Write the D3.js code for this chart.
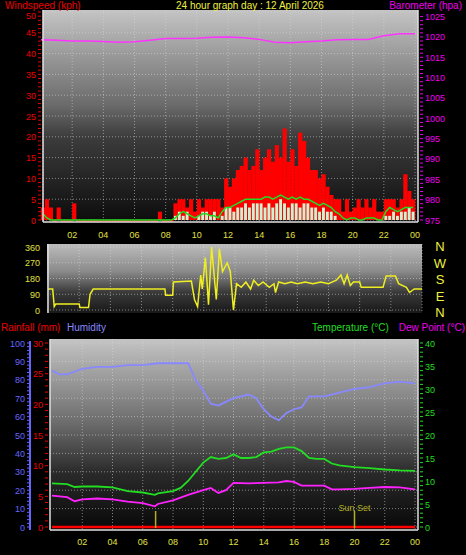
<!DOCTYPE html>
<html><head><meta charset="utf-8">
<script src="https://cdn.jsdelivr.net/npm/d3@7"></script>
<style>body{margin:0;background:#000}svg{display:block}text{font-family:"Liberation Sans",Arial,sans-serif}</style>
</head><body><svg id="c" width="466" height="555"></svg>
<script>
// ---- data ----
const hourLabels = ["02","04","06","08","10","12","14","16","18","20","22","00"];
// 15-minute steps, 96 values
const windGust = [3,5,3,0, 3,0,0,0, 4,0,0,0, 0,0,0,0, 0,0,0,0, 0,0,0,0, 0,0,0,0, 0,0,2,0,
  0,0,4,5, 5,3,5,2, 5,3,5,5, 5,5,3,10, 8,10,12,13, 15,12,13,17, 12,15,17,14, 18,15,22,14,
  17,13,21,19, 15,12,12,10, 11,8,6,5, 5,2,5,2, 3,5,3,5, 3,5,2,2, 5,5,5,3, 5,11,7,5];
const windAvg = [1.5,0.5,0,0, 0,0,0,0, 0,0,0,0, 0,0,0,0, 0,0,0,0, 0,0,0,0, 0,0,0,0, 0,0,0,0,
  0,0,0.5,1.5, 2,1.5,1,0.5, 1,1.5,1.5,1, 1,0.5,2,3, 3,3.5,4,4.5, 5,5,5,5, 5,5.5,5.5,5, 5.5,6,5.5,5,
  5.5,5,5.5,5, 5,4.5,4,3.5, 4,3.5,3,2, 1.5,0.5,0,0.5, 0.5,0,0,0.5, 0.5,0.5,0,0, 2,3,2.5,2, 2.5,3,3,3];
const windSpeed = [0,0,0,0, 0,0,0,0, 0,0,0,0, 0,0,0,0, 0,0,0,0, 0,0,0,0, 0,0,0,0, 0,0,0,0,
  0,0,1,2, 1,2,0,0, 1,2,2,1, 2,0,1,3, 3,2,3,3, 4,3,4,4, 4,3,4,3, 4,5,4,3,
  4,4,3,4, 4,3,3,2, 3,2,2,1, 0,0,0,0, 0,0,0,0, 0,0,0,0, 1,1,2,1, 2,2,3,2];
// hourly barometer 0..24
const baro = [1019.3,1019.2,1019.0,1019.0,1018.9,1018.7,1018.8,1019.2,1019.6,1019.6,1019.7,1019.9,1020.0,
  1019.8,1019.4,1018.7,1018.6,1018.8,1019.0,1019.3,1019.4,1019.4,1020.3,1020.8,1020.8];
// wind direction [hour, degrees]
const windDir = [[0,120],[0.3,120],[0.4,20],[0.5,35],[2,35],[2.05,15],[2.6,15],[2.7,90],[2.9,120],[7.5,120],[7.55,85],[8,85],[8.05,160],
  [9.2,165],[9.4,60],[9.6,20],[9.8,200],[9.9,120],[10.1,300],[10.3,30],[10.5,360],[10.8,60],[11,350],[11.2,220],[11.5,270],[11.7,220],
  [11.9,0],[12.1,150],[12.4,130],[12.7,160],[13,120],[13.2,170],[13.5,140],[13.8,160],[14.2,130],[14.5,150],[14.6,100],[14.8,160],
  [15.2,150],[15.6,160],[16,150],[16.5,160],[17,150],[17.5,160],[18,150],[18.5,170],[18.8,200],[19,150],[19.2,200],[19.4,140],[19.6,160],
  [20,160],[20.1,130],[21.5,130],[21.7,195],[22.3,195],[22.5,150],[23,130],[23.2,100],[23.5,120],[24,120]];
const humidity = [[0,85],[0.5,83],[1,83],[2,86],[3,87],[4,87],[5,88],[6,88],[7,89],[8,89],[9,89],[9.5,80],[10,74],[10.5,67],[11,66],
  [11.5,68],[12,70],[13,72],[13.5,70],[14,64],[14.5,60],[15,58],[15.5,62],[16,64],[16.5,65],[17,71],[18,71],[19,73],[20,75],[21,76],[22,78],[23,79],[24,78]];
const temperature = [[0,9.5],[1,9.3],[1.5,8.7],[2,8.8],[3,8.8],[4,8.6],[5,7.8],[6,7.5],[6.8,7],[7,7.3],[8,7.8],[8.5,8.5],[9,10],[9.5,12],
  [10,14],[10.5,15.2],[11,14.8],[11.5,15],[12,15.8],[12.5,15],[13,15],[13.5,15.2],[14,16.2],[14.5,16.4],[15,17],[15.5,17.3],[16,17.3],
  [16.5,16.5],[17,15],[17.5,14.8],[18,14.8],[18.5,13.8],[19,13.4],[20,13],[21,12.8],[22,12.5],[23,12.3],[24,12.2]];
const dewPoint = [[0,6.8],[1,6.5],[1.5,5.6],[2,6],[3,6.2],[4,6],[5,5.5],[6,5.2],[6.8,4.5],[7,5],[8,5.8],[9,7],[10,8],[10.5,8.5],[11,7.4],
  [11.5,8],[12,9.6],[13,9.5],[14,9.6],[15,9.7],[15.5,10],[16,9.8],[16.5,9],[17,9],[18,9],[18.5,8.2],[19,8.2],[20,8.3],[21,8.5],[22,8.7],[23,8.6],[24,8.2]];
const rainfall = [[0,0],[24,0]];
const sunTimes = [6.85, 20];
const dirLabels = ["N","W","S","E","N"];

const svg = d3.select("#c");
const defs = svg.append("defs");
function grad(id, stops){
  const g = defs.append("linearGradient").attr("id",id).attr("x1",0).attr("y1",0).attr("x2",0).attr("y2",1);
  stops.forEach(s=>g.append("stop").attr("offset",s[0]).attr("stop-color",s[1]));
}
grad("g1",[[0,"#c4c4c4"],[0.45,"#6a6a6a"],[0.6,"#3c3c3c"],[1,"#0c0c0c"]]);
grad("g2",[[0,"#bcbcbc"],[0.4,"#8a8a8a"],[0.7,"#3a3a3a"],[1,"#181818"]]);
grad("g3",[[0,"#c4c4c4"],[0.45,"#6a6a6a"],[0.7,"#2a2a2a"],[1,"#080808"]]);

function panel(x0,y0,x1,y1,g){
  svg.append("rect").attr("x",x0).attr("y",y0).attr("width",x1-x0).attr("height",y1-y0).attr("fill",`url(#${g})`);
}
function grid(xs, ys, x0,x1,y0,y1){
  const gg = svg.append("g").attr("stroke","#d8d8d8").attr("stroke-opacity",0.55).attr("stroke-dasharray","1,2");
  xs.forEach(x=>gg.append("line").attr("x1",x).attr("x2",x).attr("y1",y0).attr("y2",y1));
  ys.forEach(y=>gg.append("line").attr("x1",x0).attr("x2",x1).attr("y1",y).attr("y2",y));
}
function txt(x,y,s,fill,size,anchor){
  return svg.append("text").attr("x",x).attr("y",y).text(s).attr("fill",fill).attr("font-size",size||11).attr("text-anchor",anchor||"start");
}
function yAxis(scale, x, vals, color, side, minor, minY){
  const g = svg.append("g");
  minor.forEach(v=>g.append("line").attr("x1",x).attr("x2",x+(side<0?-3:3)).attr("y1",scale(v)).attr("y2",scale(v)).attr("stroke",color));
  vals.forEach(v=>g.append("text").attr("x",x+(side<0?-5:5)).attr("y",Math.max(minY||0,scale(v)+3.5)).text(v).attr("fill",color).attr("font-size",9)
    .attr("text-anchor",side<0?"end":"start"));
}

// ---- top panel ----
const X1 = d3.scaleLinear().domain([0,24]).range([41,415]);
const W = d3.scaleLinear().domain([0,50]).range([220,12]);
const B = d3.scaleLinear().domain([975,1025]).range([220,16.6]);
panel(43,10,418,222,"g1");
grid(d3.range(2,25,2).map(X1).concat([X1(0)+2]), d3.range(0,51,5).map(W), 43,418,10,222);
const step = 0.25;
svg.append("g").selectAll("rect").data(windGust).join("rect")
  .attr("x",(d,i)=>X1(i*step)).attr("width",X1(step)-X1(0)+0.3)
  .attr("y",d=>W(d)).attr("height",d=>Math.max(2,W(0)-W(d))).attr("fill","#ff0000");
svg.append("g").selectAll("rect").data(windSpeed).join("rect")
  .attr("x",(d,i)=>X1(i*step)+0.5).attr("width",X1(step)-X1(0)-1)
  .attr("y",d=>W(d)).attr("height",d=>W(0)-W(d)).attr("fill","#d0f0d0");
svg.append("path").datum(windAvg).attr("fill","none").attr("stroke","#22dd22").attr("stroke-width",1.5)
  .attr("d",d3.line().x((d,i)=>X1(i*step+step/2)).y(d=>W(d)));
svg.append("path").datum(baro).attr("fill","none").attr("stroke","#ff33ff").attr("stroke-width",1.5)
  .attr("d",d3.line().x((d,i)=>X1(i)).y(d=>B(d)));
svg.append("line").attr("x1",43).attr("x2",43).attr("y1",10).attr("y2",222).attr("stroke","#e0e0e0").attr("stroke-width",1.5);
svg.append("line").attr("x1",418).attr("x2",418).attr("y1",10).attr("y2",222).attr("stroke","#e0e0e0").attr("stroke-width",1.5);
svg.append("line").attr("x1",43).attr("x2",418).attr("y1",222).attr("y2",222).attr("stroke","#e0e0e0").attr("stroke-width",1.5);
yAxis(W,41,d3.range(0,51,5),"#ee0000",-1,d3.range(0,51,1),19);
yAxis(B,420,d3.range(975,1026,5),"#ee00ee",1,d3.range(975,1026,1),19);
hourLabels.forEach((h,i)=>txt(X1(2+2*i),238,h,"#e0e040",9,"middle"));
txt(5,9,"Windspeed (kph)","#ee0000",10);
txt(250,9,"24 hour graph day : 12 April 2026","#f0f040",10,"middle");
txt(462,9,"Barometer (hpa)","#ee00ee",10,"end");

// ---- wind direction ----
const X2 = d3.scaleLinear().domain([0,24]).range([48,422]);
const D = d3.scaleLinear().domain([0,360]).range([310,247]);
panel(47,244,422,313,"g2");
grid(d3.range(2,25,2).map(X2), [0,90,180,270,360].map(D), 47,422,244,313);
svg.append("path").datum(windDir).attr("fill","none").attr("stroke","#eeee22").attr("stroke-width",1.5)
  .attr("d",d3.line().x(d=>X2(d[0])).y(d=>D(d[1])));
svg.append("line").attr("x1",48).attr("x2",48).attr("y1",244).attr("y2",313).attr("stroke","#e0e0e0").attr("stroke-width",1.5);
[0,90,180,270,360].forEach(v=>txt(40,D(v)+3.5,v,"#e0e040",9,"end"));
dirLabels.forEach((s,i)=>txt(440,251+i*16.5,s,"#f0f040",13,"middle"));

// ---- bottom panel ----
const X3 = d3.scaleLinear().domain([0,24]).range([52,415]);
const H = d3.scaleLinear().domain([0,100]).range([527,343]);
const R = d3.scaleLinear().domain([0,30]).range([527,343]);
const T = d3.scaleLinear().domain([0,40]).range([527,343]);
panel(50,339,418,530,"g3");
grid(d3.range(2,25,2).map(X3), d3.range(0,101,10).map(H), 50,418,339,530);
svg.append("path").datum(humidity).attr("fill","none").attr("stroke","#8888ff").attr("stroke-width",1.8)
  .attr("d",d3.line().x(d=>X3(d[0])).y(d=>H(d[1])));
svg.append("path").datum(temperature).attr("fill","none").attr("stroke","#22dd22").attr("stroke-width",1.8)
  .attr("d",d3.line().x(d=>X3(d[0])).y(d=>T(d[1])));
svg.append("path").datum(dewPoint).attr("fill","none").attr("stroke","#ff22ff").attr("stroke-width",1.8)
  .attr("d",d3.line().x(d=>X3(d[0])).y(d=>T(d[1])));
svg.append("path").datum(rainfall).attr("fill","none").attr("stroke","#ff0000").attr("stroke-width",2.5)
  .attr("d",d3.line().x(d=>X3(d[0])).y(d=>R(d[1])));
sunTimes.forEach(t=>svg.append("line").attr("x1",X3(t)).attr("x2",X3(t)).attr("y1",511).attr("y2",528).attr("stroke","#b0b020").attr("stroke-width",1.5));
txt(X3(sunTimes[1]),511,"Sun Set","#b0b020",9,"middle");
svg.append("line").attr("x1",50).attr("x2",50).attr("y1",339).attr("y2",530).attr("stroke","#e0e0e0").attr("stroke-width",1.5);
svg.append("line").attr("x1",418).attr("x2",418).attr("y1",339).attr("y2",530).attr("stroke","#e0e0e0").attr("stroke-width",1.5);
svg.append("line").attr("x1",50).attr("x2",418).attr("y1",530).attr("y2",530).attr("stroke","#e0e0e0").attr("stroke-width",1.5);
svg.append("line").attr("x1",30).attr("x2",30).attr("y1",341).attr("y2",530).attr("stroke","#6666ff").attr("stroke-width",2);
yAxis(H,30,d3.range(0,101,10),"#6666ff",-1,d3.range(0,101,2));
yAxis(R,48,d3.range(0,31,5),"#ee0000",-1,d3.range(0,31,1));
yAxis(T,420,d3.range(0,41,5),"#22dd22",1,d3.range(0,41,1));
hourLabels.forEach((h,i)=>txt(X3(2+2*i),545,h,"#e0e040",9,"middle"));
txt(1,331,"Rainfall (mm)","#ee0000",10);
txt(67,331,"Humidity","#8888ff",10);
txt(312,331,"Temperature (°C)","#22dd22",10);
txt(465,331,"Dew Point (°C)","#ee00ee",10,"end");
</script></body></html>
